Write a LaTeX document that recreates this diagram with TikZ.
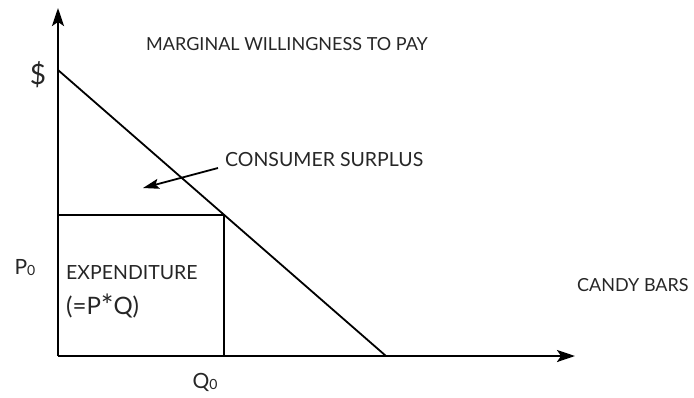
\documentclass[tikz,border=0pt]{standalone}
\usepackage{fontspec}
\setmainfont{Lato}
\usetikzlibrary{arrows.meta}
\begin{document}
\begin{tikzpicture}[x=1pt,y=-1pt,
  axis/.style={line width=2.4pt,-{Stealth[length=18pt,width=12pt,inset=4pt]}},
  thin line/.style={line width=1.8pt},
  box line/.style={line width=2.2pt},
  lbl/.style={inner sep=0pt,text=black!85,font=\fontsize{18}{21}\selectfont},
  big/.style={inner sep=0pt,text=black!85,font=\fontsize{19.5}{22}\selectfont}]
\useasboundingbox (0,0) rectangle (694,397);
\coordinate (O) at (58,356);
\coordinate (ytip) at (58,8);
\coordinate (xtip) at (575,356);
\coordinate (A) at (58,70);
\coordinate (B) at (386,356);
\coordinate (C) at (224,215);
\coordinate (D) at (224,356);
\coordinate (E) at (58,215);
\draw[thin line] (A) -- (B);
\draw[box line] (E) -- (C) -- (D);
\draw[axis] (O) -- (ytip);
\draw[axis] (O) -- (xtip);
\node[big,font=\fontsize{28}{30}\selectfont] (dollar) at (38,75) {\$};
\node[lbl] (mwtp) at (287,44) {MARGINAL WILLINGNESS TO PAY};
\node[big,anchor=west] (cs) at (225,160) {CONSUMER SURPLUS};
\coordinate (cstip) at (143,188);
\draw[line width=1.8pt,-{Stealth[length=16pt,width=10pt,inset=3pt]}] (cs.west) ++(-7,8) coordinate (cstail) (cstail) -- (cstip);
\node[lbl,font=\fontsize{21}{24}\selectfont] (p0) at (25,268) {P\raisebox{-1pt}{\fontsize{14}{14}\selectfont 0}};
\node[big,anchor=west] (exp) at (66,273) {EXPENDITURE};
\node[big,anchor=west,font=\fontsize{24}{26}\selectfont] (pq) at (66,306) {(=P\raisebox{-2pt}{\fontsize{30}{30}\selectfont *}Q)};
\node[lbl,anchor=west] (candy) at (577,285) {CANDY BARS};
\node[lbl,font=\fontsize{21}{24}\selectfont] (q0) at (205,382) {Q\raisebox{-1pt}{\fontsize{14}{14}\selectfont 0}};
\end{tikzpicture}
\end{document}
